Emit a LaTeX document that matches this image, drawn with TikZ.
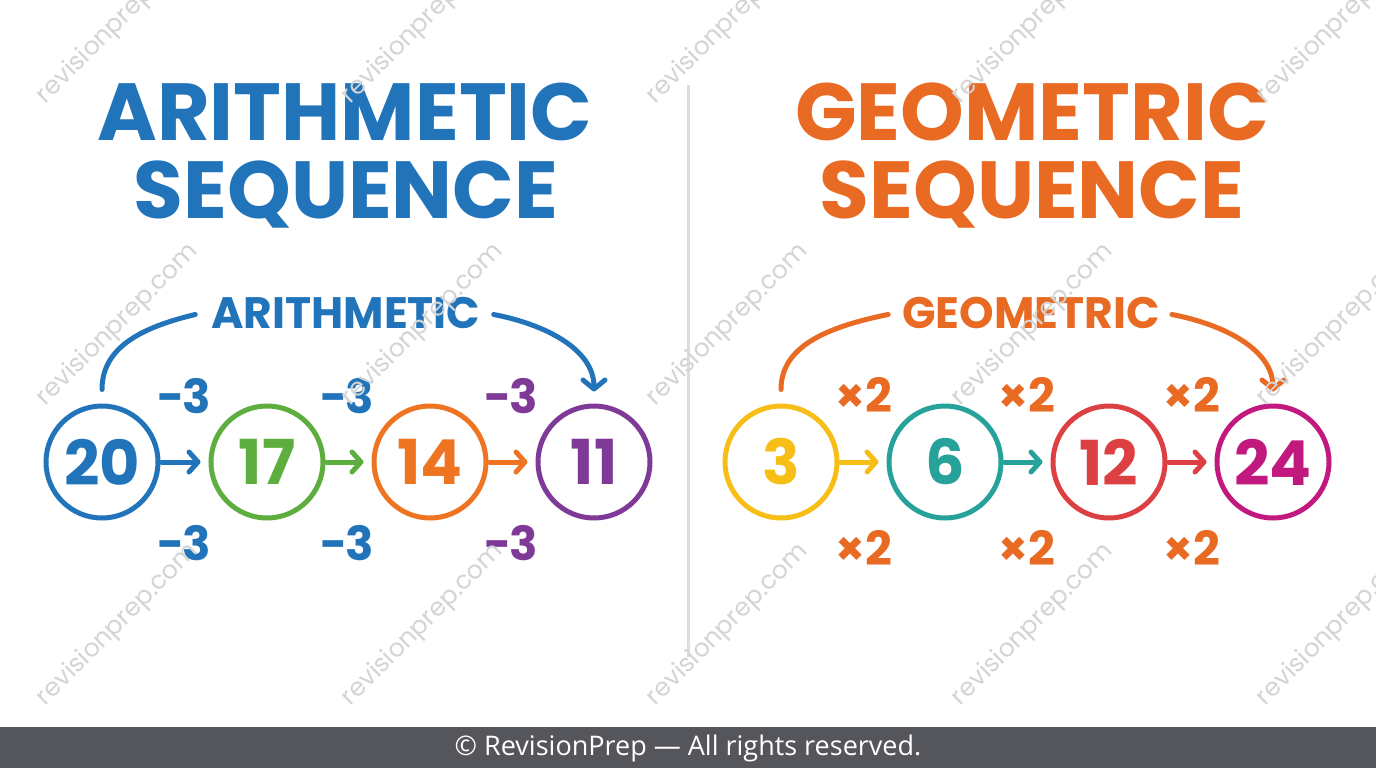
\documentclass[tikz,border=0pt]{standalone}
\usepackage{fontspec}
\setmainfont{Poppins}
\newfontfamily\footfont{Open Sans}
\usetikzlibrary{arrows.meta,calc}
\definecolor{cblue}{HTML}{2274BA}
\definecolor{cgreen}{HTML}{5DAE3F}
\definecolor{corange}{HTML}{EE7422}
\definecolor{ctitleor}{HTML}{E96A22}
\definecolor{cpurple}{HTML}{7E3A96}
\definecolor{cyellow}{HTML}{F6BE17}
\definecolor{cteal}{HTML}{27A29B}
\definecolor{cred}{HTML}{DD4043}
\definecolor{cmag}{HTML}{C1197E}
\definecolor{cdiv}{HTML}{DDDDDD}
\definecolor{cfoot}{HTML}{55565B}
\definecolor{cwm}{HTML}{D4D4D4}
\tikzset{
  titletext/.style={anchor=base,inner sep=0pt,font=\fontsize{81}{81}\selectfont\bfseries},
  labeltext/.style={anchor=base,inner sep=0pt,font=\fontsize{44}{44}\selectfont\bfseries},
  numcircle/.style={circle,draw=#1,text=#1,line width=5pt,minimum size=112pt,inner sep=0pt,
     font=\fontsize{62}{62}\selectfont\bfseries},
  oplabel/.style={inner sep=0pt,text=#1,font=\fontsize{47}{47}\selectfont\bfseries},
  steparrow/.style={draw=#1,line width=5pt,line cap=round,
     -{Straight Barb[length=9pt,width=20pt,line width=5pt,round]},shorten <=1pt,shorten >=8pt},
  curvearrow/.style={draw=#1,line width=5pt,line cap=round},
  curvetip/.style={-{Straight Barb[length=9pt,width=22pt,line width=5pt,round]}},
  wmark/.style={rotate=45,text=cwm,inner sep=0pt,font=\fontsize{25}{25}\selectfont},
}
\begin{document}
\begin{tikzpicture}[x=1pt,y=-1pt]
\useasboundingbox (0,0) rectangle (1376,768);
\fill[white] (0,0) rectangle (1376,768);

% divider
\draw[cdiv,line width=3pt] (688,85) -- (688,657);

% titles
\node[titletext,text=cblue] (t1) at (345,140) {ARITHMETIC};
\node[titletext,text=cblue] (t2) at (346,218) {SEQUENCE};
\node[titletext,text=ctitleor] (t3) at (1032,140) {GEOMETRIC};
\node[titletext,text=ctitleor] (t4) at (1032,218) {SEQUENCE};

% arithmetic circles
\node[numcircle=cblue] (a1) at (102,462) {20};
\node[numcircle=cgreen] (a2) at (267,462) {17};
\node[numcircle=corange] (a3) at (430,462) {14};
\node[numcircle=cpurple] (a4) at (594,462) {11};
\draw[steparrow=cblue] (a1.east) -- (a2.west);
\draw[steparrow=cgreen] (a2.east) -- (a3.west);
\draw[steparrow=corange] (a3.east) -- (a4.west);

\node[oplabel=cblue] (am1) at (184,396) {−3};
\node[oplabel=cblue] (am2) at (347,396) {−3};
\node[oplabel=cpurple] (am3) at (511,396) {−3};
\node[oplabel=cblue] (ab1) at (184,543) {−3};
\node[oplabel=cblue] (ab2) at (347,543) {−3};
\node[oplabel=cpurple] (ab3) at (511,543) {−3};

\node[labeltext,text=cblue] (al) at (346,328) {ARITHMETIC};
\coordinate (as) at ($(a1.north)+(0,-14)$);
\coordinate (al1) at ($(al.west)+(-16,2)$);
\coordinate (al2) at ($(al.east)+(13,2)$);
\coordinate (ae) at ($(a4.north)+(0,-12)$);
\draw[curvearrow=cblue] (as) .. controls ($(as)+(0,-42)$) and ($(as)+(39,-62)$) .. (al1);
\draw[curvearrow=cblue,curvetip]
  (al2) .. controls ($(al2)+(52,10)$) and ($(ae)+(0,-42)$) .. (ae);

% geometric circles
\node[numcircle=cyellow] (g1) at (781,462) {3};
\node[numcircle=cteal] (g2) at (945,462) {6};
\node[numcircle=cred] (g3) at (1109,462) {12};
\node[numcircle=cmag] (g4) at (1273,462) {24};
\draw[steparrow=cyellow] (g1.east) -- (g2.west);
\draw[steparrow=cteal] (g2.east) -- (g3.west);
\draw[steparrow=cred] (g3.east) -- (g4.west);

\node[oplabel=ctitleor] (gm1) at (864,395) {×2};
\node[oplabel=ctitleor] (gm2) at (1027,395) {×2};
\node[oplabel=ctitleor] (gm3) at (1192,395) {×2};
\node[oplabel=ctitleor] (gb1) at (864,548) {×2};
\node[oplabel=ctitleor] (gb2) at (1027,548) {×2};
\node[oplabel=ctitleor] (gb3) at (1192,548) {×2};

\node[labeltext,text=ctitleor] (gl) at (1031,328) {GEOMETRIC};
\coordinate (gs) at ($(g1.north)+(0,-14)$);
\coordinate (gl1) at ($(gl.west)+(-14,2)$);
\coordinate (gl2) at ($(gl.east)+(12,2)$);
\coordinate (ge) at ($(g4.north)+(0,-12)$);
\draw[curvearrow=ctitleor] (gs) .. controls ($(gs)+(0,-42)$) and ($(gs)+(43,-62)$) .. (gl1);
\draw[curvearrow=ctitleor,curvetip]
  (gl2) .. controls ($(gl2)+(52,10)$) and ($(ge)+(0,-42)$) .. (ge);

% watermarks
\foreach \cx in {118,423,728,1033,1338}{
  \foreach \cy in {23,325,625}{
    \node[wmark] at (\cx,\cy) {revisionprep.com};
  }
}

% footer
\fill[cfoot] (0,727) rectangle (1376,768);
\node[text=white,inner sep=0pt,font=\footfont\fontsize{27}{27}\selectfont] (foot) at (688,748) {© RevisionPrep — All rights reserved.};
\end{tikzpicture}
\end{document}
